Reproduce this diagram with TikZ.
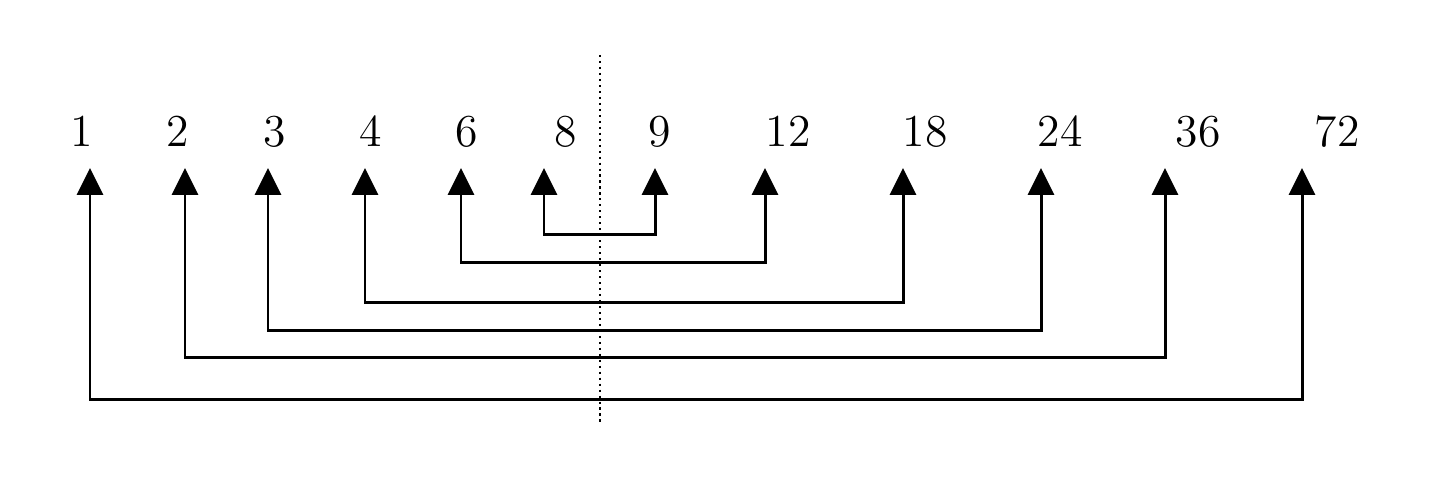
\documentclass[tikz,border=0pt]{standalone}
\usetikzlibrary{arrows.meta}
\begin{document}
\begin{tikzpicture}[
  num/.style={anchor=base,inner sep=0pt,font=\fontsize{13}{15}\selectfont},
  pair/.style={line width=0.85pt,{Triangle[width=0.26cm,length=0.27cm]}-{Triangle[width=0.26cm,length=0.27cm]}}]
  \useasboundingbox (0,0) rectangle (14.4,4.8);

  \draw [line width=0.6pt,dash pattern=on 0.6pt off 1.1pt] (6.0,4.25) -- (6.0,0.55);

  \node[num] (n1) at (0.82,3.33) {1};
  \node[num] (n2) at (1.78,3.33) {2};
  \node[num] (n3) at (2.75,3.33) {3};
  \node[num] (n4) at (3.71,3.33) {4};
  \node[num] (n6) at (4.67,3.33) {6};
  \node[num] (n8) at (5.66,3.33) {8};
  \node[num] (n9) at (6.60,3.33) {9};
  \node[num] (n12) at (7.88,3.33) {12};
  \node[num] (n18) at (9.25,3.33) {18};
  \node[num] (n24) at (10.60,3.33) {24};
  \node[num] (n36) at (11.98,3.33) {36};
  \node[num] (n72) at (13.37,3.33) {72};

  \coordinate (t1) at (0.90,3.12);
  \coordinate (t2) at (1.85,3.12);
  \coordinate (t3) at (2.68,3.12);
  \coordinate (t4) at (3.65,3.12);
  \coordinate (t6) at (4.61,3.12);
  \coordinate (t8) at (5.44,3.12);
  \coordinate (t9) at (6.55,3.12);
  \coordinate (t12) at (7.65,3.12);
  \coordinate (t18) at (9.03,3.12);
  \coordinate (t24) at (10.41,3.12);
  \coordinate (t36) at (11.65,3.12);
  \coordinate (t72) at (13.02,3.12);

  \draw [pair] (t8) -- (t8 |- 0,2.45) -- (t9 |- 0,2.45) -- (t9);
  \draw [pair] (t6) -- (t6 |- 0,2.17) -- (t12 |- 0,2.17) -- (t12);
  \draw [pair] (t4) -- (t4 |- 0,1.77) -- (t18 |- 0,1.77) -- (t18);
  \draw [pair] (t3) -- (t3 |- 0,1.49) -- (t24 |- 0,1.49) -- (t24);
  \draw [pair] (t2) -- (t2 |- 0,1.22) -- (t36 |- 0,1.22) -- (t36);
  \draw [pair] (t1) -- (t1 |- 0,0.80) -- (t72 |- 0,0.80) -- (t72);

\end{tikzpicture}
\end{document}
